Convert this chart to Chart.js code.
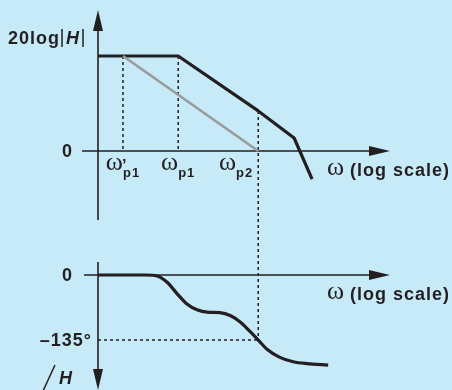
<!DOCTYPE html>
<html>
<head>
<meta charset="utf-8">
<script src="https://cdn.jsdelivr.net/npm/chart.js@4.4.1/dist/chart.umd.min.js"></script>
<style>
  html, body { margin: 0; padding: 0; background: #c7eaf9; }
  #wrap { width: 452px; height: 390px; position: relative; }
</style>
</head>
<body>
<div id="wrap"><canvas id="bode" width="452" height="390"></canvas></div>
<script>
// log10(omega), normalised so that omega'p1 sits at 0
const poleNames = ["ω'p1", "ωp1", "ωp2"];
const poleLogW = [0, 1.2, 2.94];

// magnitude (dB, arbitrary units) - actual response
const magLogW = [-0.543, 1.2, 2.94, 3.72, 4.11];
const magDb = [60, 60, 25.3, 8.2, -17.7];

// gray asymptote: single-pole after compensation
const asymLogW = [0, 2.94];
const asymDb = [60, 0];

// phase (degrees)
const phaseLogW = [-0.543, 0.5, 0.74, 0.96, 1.17, 1.39, 1.61, 1.83, 2.11, 2.33, 2.54, 2.76, 2.94, 3.13, 3.41, 3.70, 4.0, 4.46];
const phaseDeg = [0, 0, -2, -15, -38, -60, -72, -77, -78, -84, -97, -117, -135, -154, -171, -180, -184, -187];

const phaseMarker = -135; // labelled phase level
const ink = "#231f20";

function pts(xs, ys) {
    return xs.map((x, i) => ({ x: x, y: ys[i] }));
}

// draw filled arrow head, tip at (x,y) pointing in direction dir
function arrow(ctx, x, y, dir) {
    ctx.beginPath();
    if (dir === "up") { ctx.moveTo(x, y); ctx.lineTo(x - 5, y + 21); ctx.lineTo(x + 5, y + 21); }
    if (dir === "down") { ctx.moveTo(x, y); ctx.lineTo(x - 5, y - 21); ctx.lineTo(x + 5, y - 21); }
    if (dir === "right") { ctx.moveTo(x, y); ctx.lineTo(x - 21, y - 5); ctx.lineTo(x - 21, y + 5); }
    ctx.closePath();
    ctx.fill();
}

const bodePlugin = {
    id: "bode",
    beforeDatasetsDraw(chart) {
        const ctx = chart.ctx;
        const xs = chart.scales.x, ym = chart.scales.yMag, yp = chart.scales.yPhase;
        const area = chart.chartArea;
        const x0 = area.left;
        ctx.save();
        ctx.strokeStyle = ink;
        ctx.fillStyle = ink;
        ctx.lineWidth = 1.6;

        // magnitude axes
        const magZero = ym.getPixelForValue(0);
        ctx.beginPath();
        ctx.moveTo(x0, area.top + 10); ctx.lineTo(x0, 220);
        ctx.moveTo(x0 - 16, magZero); ctx.lineTo(area.right - 10, magZero);
        ctx.stroke();
        arrow(ctx, x0, area.top, "up");
        arrow(ctx, area.right, magZero, "right");

        // phase axes
        const phZero = yp.getPixelForValue(0);
        ctx.beginPath();
        ctx.moveTo(x0, 262); ctx.lineTo(x0, area.bottom - 10);
        ctx.moveTo(x0 - 14, phZero); ctx.lineTo(area.right - 10, phZero);
        ctx.stroke();
        arrow(ctx, x0, area.bottom, "down");
        arrow(ctx, area.right, phZero, "right");

        // dotted guides
        ctx.setLineDash([3, 3]);
        ctx.lineWidth = 1.5;
        ctx.beginPath();
        for (let i = 0; i < 2; i++) {
            const px = xs.getPixelForValue(poleLogW[i]);
            ctx.moveTo(px, ym.getPixelForValue(magDb[1]));
            ctx.lineTo(px, magZero);
        }
        const p2 = xs.getPixelForValue(poleLogW[2]);
        const p2Mag = magDb[magLogW.indexOf(poleLogW[2])];
        ctx.moveTo(p2, ym.getPixelForValue(p2Mag));
        ctx.lineTo(p2, yp.getPixelForValue(phaseMarker));
        ctx.moveTo(x0, yp.getPixelForValue(phaseMarker));
        ctx.lineTo(p2, yp.getPixelForValue(phaseMarker));
        ctx.stroke();
        ctx.restore();
    },
    afterDraw(chart) {
        const ctx = chart.ctx;
        const xs = chart.scales.x, ym = chart.scales.yMag, yp = chart.scales.yPhase;
        ctx.save();
        ctx.fillStyle = ink;
        ctx.strokeStyle = ink;
        ctx.textBaseline = "alphabetic";
        ctx.letterSpacing = "1px";
        const bold = "bold 18px 'Liberation Sans', Arial, sans-serif";
        const omegaFont = "26px 'Liberation Serif', 'Times New Roman', serif";
        const subFont = "bold 13px 'Liberation Sans', Arial, sans-serif";

        // 20log|H|
        ctx.font = bold;
        ctx.textAlign = "left";
        ctx.fillText("20log", 8, 44);
        let bx = 8 + ctx.measureText("20log").width + 2;
        ctx.lineWidth = 1.5;
        ctx.beginPath(); ctx.moveTo(bx, 29); ctx.lineTo(bx, 47); ctx.stroke();
        ctx.font = "italic bold 18px 'Liberation Sans', Arial, sans-serif";
        ctx.fillText("H", bx + 4, 44);
        bx = bx + 4 + ctx.measureText("H").width + 3;
        ctx.beginPath(); ctx.moveTo(bx, 29); ctx.lineTo(bx, 47); ctx.stroke();

        // zero / phase tick labels
        ctx.font = bold;
        ctx.textAlign = "right";
        ctx.fillText("0", 73, ym.getPixelForValue(0) + 6);
        ctx.fillText("0", 73, yp.getPixelForValue(0) + 6);
        ctx.fillText("–135°", 92, yp.getPixelForValue(phaseMarker) + 6);

        // omega labels under the magnitude axis
        const magZero = ym.getPixelForValue(0);
        ctx.textAlign = "left";
        poleNames.forEach((name, i) => {
            const px = xs.getPixelForValue(poleLogW[i]);
            const sub = name.slice(-2);
            const prime = name.indexOf("'") > 0;
            ctx.font = omegaFont;
            ctx.letterSpacing = "0px";
            const ww = ctx.measureText("ω").width;
            ctx.font = subFont;
            ctx.letterSpacing = "1px";
            const sw = ctx.measureText(sub).width;
            const left = i === 2 ? px - 5 - ww - sw : px - (ww + sw) / 2;
            ctx.font = omegaFont;
            ctx.letterSpacing = "0px";
            ctx.fillText("ω", left, magZero + 19);
            if (prime) {
                ctx.font = "bold 16px 'Liberation Sans', Arial, sans-serif";
                ctx.fillText("’", left + ww - 1, magZero + 20);
            }
            ctx.font = subFont;
            ctx.letterSpacing = "1px";
            ctx.fillText(sub, left + ww, magZero + 26);
        });

        // axis titles
        [magZero + 25, yp.getPixelForValue(0) + 25].forEach(y => {
            ctx.font = omegaFont;
            ctx.letterSpacing = "0px";
            ctx.fillText("ω", 327, y - 1);
            ctx.font = bold;
            ctx.letterSpacing = "1px";
            ctx.fillText("(log scale)", 350, y);
        });

        // angle H
        ctx.lineWidth = 1.5;
        ctx.beginPath(); ctx.moveTo(43, 391); ctx.lineTo(55, 365); ctx.stroke();
        ctx.font = "italic bold 18px 'Liberation Sans', Arial, sans-serif";
        ctx.fillText("H", 59, 384);
        ctx.restore();
    }
};

new Chart(document.getElementById("bode"), {
    type: "line",
    data: {
        datasets: [
            {
                data: pts(asymLogW, asymDb),
                yAxisID: "yMag",
                borderColor: "#9a9a9a",
                borderWidth: 2.6,
                pointRadius: 0
            },
            {
                data: pts(magLogW, magDb),
                yAxisID: "yMag",
                borderColor: ink,
                borderWidth: 3.2,
                borderJoinStyle: "round",
                pointRadius: 0
            },
            {
                data: pts(phaseLogW, phaseDeg),
                yAxisID: "yPhase",
                borderColor: ink,
                borderWidth: 3.2,
                cubicInterpolationMode: "monotone",
                pointRadius: 0
            }
        ]
    },
    options: {
        responsive: false,
        animation: false,
        devicePixelRatio: 1,
        layout: { padding: { left: 98, right: 62, top: 10, bottom: 0 } },
        plugins: { legend: { display: false }, tooltip: { enabled: false } },
        scales: {
            x: { type: "linear", display: false, min: -0.543, max: 5.804 },
            yMag: { type: "linear", display: false, min: -150.95, max: 89.05 },
            yPhase: { type: "linear", display: false, min: -238.8, max: 550.4 }
        }
    },
    plugins: [bodePlugin]
});
</script>
</body>
</html>
